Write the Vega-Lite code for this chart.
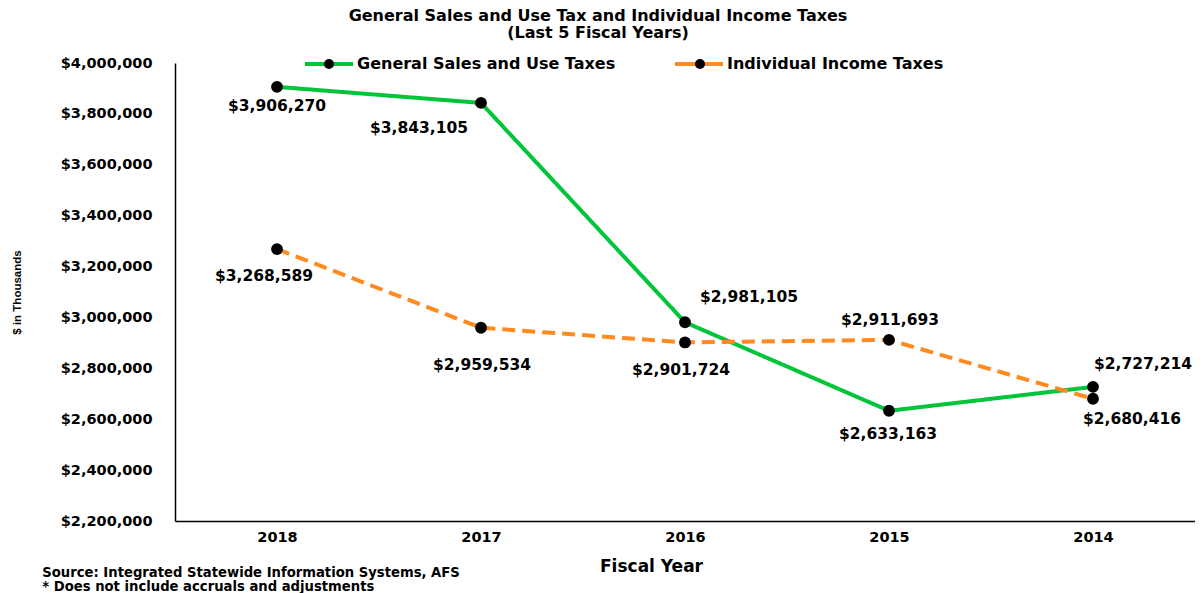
{
  "$schema": "https://vega.github.io/schema/vega-lite/v6.json",
  "padding": {"left": 11, "top": 8, "right": 0, "bottom": 0},
  "background": "white",
  "datasets": {
    "taxes": [
      {"year": "2018", "series": "General Sales and Use Taxes", "value": 3906270},
      {"year": "2017", "series": "General Sales and Use Taxes", "value": 3843105},
      {"year": "2016", "series": "General Sales and Use Taxes", "value": 2981105},
      {"year": "2015", "series": "General Sales and Use Taxes", "value": 2633163},
      {"year": "2014", "series": "General Sales and Use Taxes", "value": 2727214},
      {"year": "2018", "series": "Individual Income Taxes", "value": 3268589},
      {"year": "2017", "series": "Individual Income Taxes", "value": 2959534},
      {"year": "2016", "series": "Individual Income Taxes", "value": 2901724},
      {"year": "2015", "series": "Individual Income Taxes", "value": 2911693},
      {"year": "2014", "series": "Individual Income Taxes", "value": 2680416}
    ]
  },
  "title": {
    "text": ["Source: Integrated Statewide Information Systems, AFS", "* Does not include accruals and adjustments"],
    "orient": "bottom",
    "anchor": "start",
    "frame": "bounds",
    "offset": -8,
    "dx": 31,
    "font": "DejaVu Sans",
    "fontWeight": "bold",
    "fontSize": 13.2,
    "lineHeight": 14,
    "color": "black"
  },
  "vconcat": [
    {
      "width": 1020,
      "height": 458,
      "data": {"name": "taxes"},
      "title": {
        "text": ["General Sales and Use Tax and Individual Income Taxes", "(Last 5 Fiscal Years)"],
        "anchor": "middle",
        "dx": -87,
        "offset": 14,
        "font": "DejaVu Sans",
        "fontWeight": "bold",
        "fontSize": 16,
        "lineHeight": 17,
        "color": "black"
      },
      "encoding": {
        "x": {
          "field": "year",
          "type": "ordinal",
          "sort": ["2018", "2017", "2016", "2015", "2014"],
          "scale": {"type": "point", "padding": 0.5},
          "axis": {
            "title": "Fiscal Year",
            "titleX": 476,
            "labelAngle": 0,
            "ticks": false,
            "grid": false,
            "domainColor": "black",
            "domainWidth": 1.5,
            "labelPadding": 9,
            "labelFont": "DejaVu Sans",
            "labelFontWeight": "bold",
            "labelFontSize": 14.5,
            "labelColor": "black",
            "titleFont": "DejaVu Sans",
            "titleFontWeight": "bold",
            "titleFontSize": 17,
            "titleColor": "black",
            "titlePadding": 15
          }
        },
        "y": {
          "field": "value",
          "type": "quantitative",
          "scale": {"domain": [2200000, 4000000], "nice": false, "zero": false},
          "axis": {
            "title": "$ in Thousands",
            "values": [2200000, 2400000, 2600000, 2800000, 3000000, 3200000, 3400000, 3600000, 3800000, 4000000],
            "format": "$,.0f",
            "ticks": false,
            "grid": false,
            "domainColor": "black",
            "domainWidth": 1.5,
            "labelPadding": 23,
            "labelFont": "DejaVu Sans",
            "labelFontWeight": "bold",
            "labelFontSize": 14.5,
            "labelColor": "black",
            "titleFont": "Liberation Sans",
            "titleFontWeight": "bold",
            "titleFontSize": 11.5,
            "titleColor": "black",
            "titlePadding": 38
          }
        }
      },
      "layer": [
        {
          "mark": {"type": "line", "strokeWidth": 4},
          "encoding": {
            "color": {
              "field": "series",
              "type": "nominal",
              "scale": {"domain": ["General Sales and Use Taxes", "Individual Income Taxes"], "range": ["#00C43A", "#FF8A1F"]},
              "legend": {
                "orient": "none",
                "legendX": 146,
                "legendY": -7,
                "direction": "horizontal",
                "title": null,
                "padding": 0,
                "symbolType": "M0,0H4.8M0,0H-4.8",
                "symbolSize": 100,
                "symbolStrokeWidth": 4,
                "labelFont": "DejaVu Sans",
                "labelFontWeight": "bold",
                "labelFontSize": 16,
                "labelColor": "black",
                "labelOffset": 20,
                "labelLimit": 400,
                "columnPadding": 51
              }
            },
            "strokeDash": {
              "field": "series",
              "type": "nominal",
              "scale": {"range": [[1, 0], [13, 7]]},
              "legend": null
            }
          }
        },
        {
          "mark": {"type": "point", "filled": true, "size": 140, "color": "black", "opacity": 1},
          "encoding": {
            "shape": {
              "field": "series",
              "type": "nominal",
              "scale": {"range": ["circle", "circle"]},
              "legend": {
                "orient": "none",
                "legendX": 146,
                "legendY": -7,
                "direction": "horizontal",
                "title": null,
                "padding": 0,
                "symbolType": "circle",
                "symbolSize": 100,
                "symbolFillColor": "black",
                "symbolStrokeColor": "transparent",
                "symbolStrokeWidth": 4,
                "symbolOpacity": 1,
                "labelExpr": "''",
                "labelFontSize": 16,
                "labelOffset": 0,
                "columnPadding": 345
              }
            }
          }
        },
        {"transform": [{"filter": "datum.year == '2018' && datum.series == 'General Sales and Use Taxes'"}], "mark": {"type": "text", "font": "DejaVu Sans", "fontWeight": "bold", "fontSize": 15.5, "color": "black", "dx": 0, "dy": 19}, "encoding": {"text": {"field": "value", "type": "quantitative", "format": "$,.0f"}}},
        {"transform": [{"filter": "datum.year == '2017' && datum.series == 'General Sales and Use Taxes'"}], "mark": {"type": "text", "font": "DejaVu Sans", "fontWeight": "bold", "fontSize": 15.5, "color": "black", "dx": -62, "dy": 25}, "encoding": {"text": {"field": "value", "type": "quantitative", "format": "$,.0f"}}},
        {"transform": [{"filter": "datum.year == '2016' && datum.series == 'General Sales and Use Taxes'"}], "mark": {"type": "text", "font": "DejaVu Sans", "fontWeight": "bold", "fontSize": 15.5, "color": "black", "dx": 64, "dy": -25}, "encoding": {"text": {"field": "value", "type": "quantitative", "format": "$,.0f"}}},
        {"transform": [{"filter": "datum.year == '2015' && datum.series == 'General Sales and Use Taxes'"}], "mark": {"type": "text", "font": "DejaVu Sans", "fontWeight": "bold", "fontSize": 15.5, "color": "black", "dx": -1, "dy": 23}, "encoding": {"text": {"field": "value", "type": "quantitative", "format": "$,.0f"}}},
        {"transform": [{"filter": "datum.year == '2014' && datum.series == 'General Sales and Use Taxes'"}], "mark": {"type": "text", "font": "DejaVu Sans", "fontWeight": "bold", "fontSize": 15.5, "color": "black", "dx": 50, "dy": -23}, "encoding": {"text": {"field": "value", "type": "quantitative", "format": "$,.0f"}}},
        {"transform": [{"filter": "datum.year == '2018' && datum.series == 'Individual Income Taxes'"}], "mark": {"type": "text", "font": "DejaVu Sans", "fontWeight": "bold", "fontSize": 15.5, "color": "black", "dx": -13, "dy": 27}, "encoding": {"text": {"field": "value", "type": "quantitative", "format": "$,.0f"}}},
        {"transform": [{"filter": "datum.year == '2017' && datum.series == 'Individual Income Taxes'"}], "mark": {"type": "text", "font": "DejaVu Sans", "fontWeight": "bold", "fontSize": 15.5, "color": "black", "dx": 1, "dy": 37}, "encoding": {"text": {"field": "value", "type": "quantitative", "format": "$,.0f"}}},
        {"transform": [{"filter": "datum.year == '2016' && datum.series == 'Individual Income Taxes'"}], "mark": {"type": "text", "font": "DejaVu Sans", "fontWeight": "bold", "fontSize": 15.5, "color": "black", "dx": -4, "dy": 28}, "encoding": {"text": {"field": "value", "type": "quantitative", "format": "$,.0f"}}},
        {"transform": [{"filter": "datum.year == '2015' && datum.series == 'Individual Income Taxes'"}], "mark": {"type": "text", "font": "DejaVu Sans", "fontWeight": "bold", "fontSize": 15.5, "color": "black", "dx": 1, "dy": -20}, "encoding": {"text": {"field": "value", "type": "quantitative", "format": "$,.0f"}}},
        {"transform": [{"filter": "datum.year == '2014' && datum.series == 'Individual Income Taxes'"}], "mark": {"type": "text", "font": "DejaVu Sans", "fontWeight": "bold", "fontSize": 15.5, "color": "black", "dx": 39, "dy": 20}, "encoding": {"text": {"field": "value", "type": "quantitative", "format": "$,.0f"}}}
      ]
    }
  ],
  "config": {
    "view": {"stroke": null},
    "font": "DejaVu Sans"
  }
}
